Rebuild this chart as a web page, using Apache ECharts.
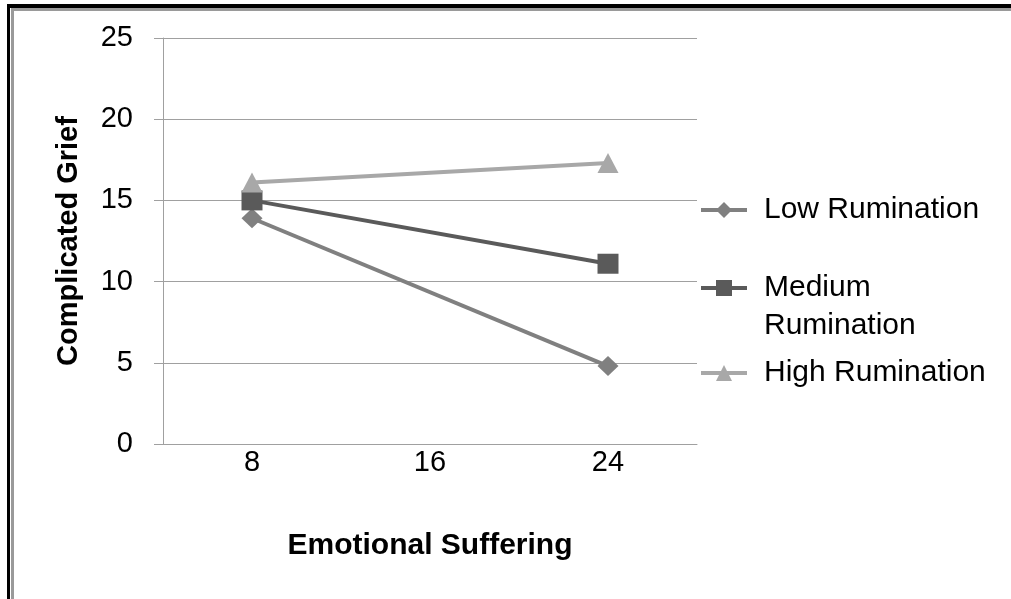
<!DOCTYPE html>
<html>
<head>
<meta charset="utf-8">
<script src="https://cdn.jsdelivr.net/npm/echarts@6/dist/echarts.min.js"></script>
<style>
html,body{margin:0;padding:0;background:#fff;}
#chart{width:1011px;height:599px;}
</style>
</head>
<body>
<div id="chart"></div>
<script>
const categories = ['8', '16', '24'];
const lowRumination = [13.9, null, 4.8];
const mediumRumination = [15.0, null, 11.1];
const highRumination = [16.1, null, 17.3];
const seriesNames = ['Low Rumination', 'Medium Rumination', 'High Rumination'];

const chart = echarts.init(document.getElementById('chart'));
const font = '"Liberation Sans", Arial, sans-serif';
const legendText = {fontFamily: font, fontSize: 30, color: '#000', lineHeight: 38, padding: [0, 0, 0, 12]};
const legendBase = {orient: 'vertical', left: 694, itemWidth: 46, itemHeight: 20, itemGap: 0,
  lineStyle: {width: 4}, textStyle: legendText};

chart.setOption({
  animation: false,
  backgroundColor: '#fff',
  grid: {left: 163, right: 314, top: 38, bottom: 155},
  xAxis: {
    type: 'category',
    data: categories,
    boundaryGap: true,
    name: 'Emotional Suffering',
    nameLocation: 'middle',
    nameGap: 87,
    nameTextStyle: {fontFamily: font, fontSize: 30, fontWeight: 'bold', color: '#000'},
    axisLine: {lineStyle: {color: '#a0a0a0', width: 1}},
    axisTick: {length: 9, lineStyle: {color: '#a0a0a0'}},
    axisLabel: {fontFamily: font, fontSize: 29, color: '#000', margin: 4}
  },
  yAxis: {
    type: 'value',
    min: 0, max: 25, interval: 5,
    name: 'Complicated Grief',
    nameLocation: 'middle',
    nameGap: 80,
    nameRotate: 90,
    nameTextStyle: {fontFamily: font, fontSize: 29, fontWeight: 'bold', color: '#000'},
    axisLine: {show: true, lineStyle: {color: '#a0a0a0', width: 1}},
    axisTick: {show: true, length: 9, lineStyle: {color: '#a0a0a0'}},
    axisLabel: {fontFamily: font, fontSize: 29, color: '#000', margin: 30},
    splitLine: {lineStyle: {color: '#a0a0a0', width: 1}}
  },
  legend: [
    Object.assign({top: 186, data: [seriesNames[0]]}, legendBase),
    Object.assign({top: 226, data: [seriesNames[1]],
      formatter: function () { return ' \nMedium\nRumination'; }}, legendBase),
    Object.assign({top: 349, data: [seriesNames[2]]}, legendBase)
  ],
  series: [
    {name: seriesNames[0], type: 'line', data: lowRumination, connectNulls: true,
     symbol: 'diamond', symbolSize: [21, 20],
     lineStyle: {color: '#808080', width: 4}, itemStyle: {color: '#808080'}},
    {name: seriesNames[1], type: 'line', data: mediumRumination, connectNulls: true,
     symbol: 'rect', symbolSize: [21, 20],
     lineStyle: {color: '#5a5a5a', width: 4}, itemStyle: {color: '#5a5a5a'}},
    {name: seriesNames[2], type: 'line', data: highRumination, connectNulls: true,
     symbol: 'triangle', symbolSize: [21, 20],
     lineStyle: {color: '#a8a8a8', width: 4}, itemStyle: {color: '#a8a8a8'}}
  ],
  graphic: [
    {type: 'rect', shape: {x: 7, y: 4, width: 1004, height: 4}, style: {fill: '#000'}, silent: true},
    {type: 'rect', shape: {x: 11, y: 8, width: 1000, height: 3}, style: {fill: '#9a9a9a'}, silent: true},
    {type: 'rect', shape: {x: 7, y: 4, width: 3, height: 595}, style: {fill: '#000'}, silent: true},
    {type: 'rect', shape: {x: 11, y: 8, width: 3, height: 591}, style: {fill: '#9a9a9a'}, silent: true}
  ]
});
</script>
</body>
</html>
